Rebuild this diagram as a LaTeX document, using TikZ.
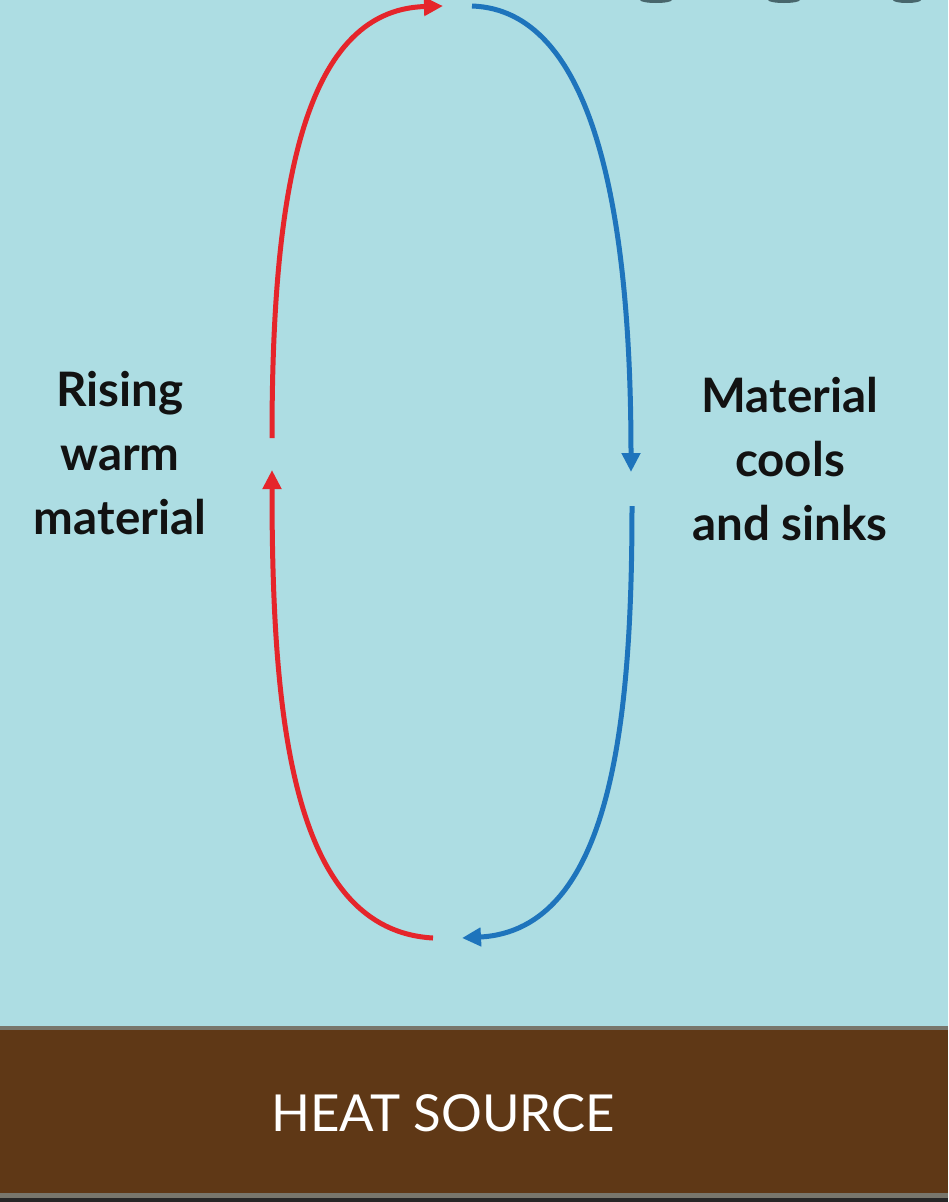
\documentclass[tikz,border=0pt]{standalone}
\usepackage{fontspec}
\setmainfont{Lato}
\usetikzlibrary{arrows.meta}
\definecolor{bgblue}{RGB}{173,221,227}
\definecolor{warmred}{RGB}{229,37,43}
\definecolor{coolblue}{RGB}{30,116,188}
\definecolor{earth}{RGB}{95,56,22}
\definecolor{edgegray}{RGB}{120,118,108}
\definecolor{darkstrip}{RGB}{38,38,38}
\definecolor{knob}{RGB}{72,102,108}
\begin{document}
\begin{tikzpicture}[x=1pt,y=-1pt,
  flow/.style={line width=5pt,-{Triangle[length=19pt,width=18pt]}},
  label/.style={align=center,inner sep=0pt,text=black!93,font=\bfseries\fontsize{47.5}{64}\selectfont},
  sourcelabel/.style={inner sep=0pt,text=white,font=\fontsize{51}{60}\selectfont}]
\useasboundingbox (0,0) rectangle (948,1202);
\fill[bgblue] (0,0) rectangle (948,1202);
% partial dark shapes at top right
\fill[knob] (656,0) ellipse [x radius=16, y radius=3];
\fill[knob] (784,0) ellipse [x radius=16, y radius=3];
\fill[knob] (907,0) ellipse [x radius=14, y radius=3];
% heat source bar
\fill[edgegray] (0,1026) rectangle (948,1031);
\fill[earth] (0,1030) rectangle (948,1193);
\fill[edgegray] (0,1193) rectangle (948,1198);
\fill[darkstrip] (0,1198) rectangle (948,1202);
\node[sourcelabel] (src) at (443,1113) {HEAT SOURCE};
% coordinates of the loop
\coordinate (rA) at (272,438);
\coordinate (rTop) at (443,6);
\coordinate (bTop) at (472,6);
\coordinate (bA) at (631,472);
\coordinate (bB) at (632,506);
\coordinate (bBot) at (462,938);
\coordinate (rBot) at (433,938);
\coordinate (rB) at (272,470);
% red rising
\draw[flow,warmred] (rA) .. controls (272,200) and (300,10) .. (rTop);
\draw[flow,warmred] (rBot) .. controls (292,930) and (272,720) .. (rB);
% blue sinking
\draw[flow,coolblue] (bTop) .. controls (590,10) and (631,200) .. (bA);
\draw[flow,coolblue] (bB) .. controls (632,720) and (612,930) .. (bBot);
% labels
\node[label,anchor=north] (rise) at (120,371) {Rising\\warm\\material};
\node[label,anchor=north] (sink) at (790,377) {Material\\cools\\and sinks};
\end{tikzpicture}
\end{document}
